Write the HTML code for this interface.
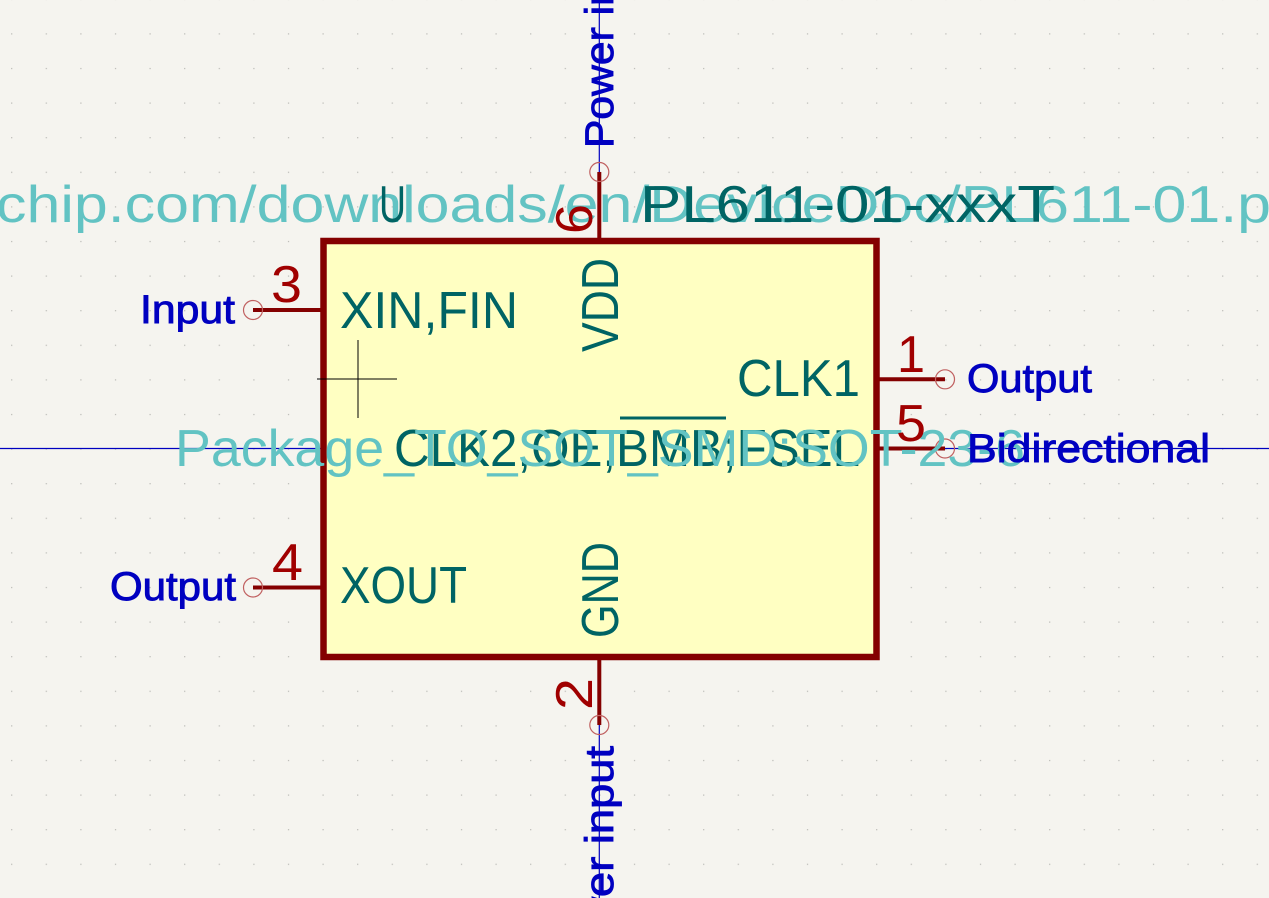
<!DOCTYPE html>
<html><head><meta charset="utf-8"><style>
html,body{margin:0;padding:0;background:#f5f4ef;width:1269px;height:898px;overflow:hidden;}
svg{display:block;}
text{font-family:"Liberation Sans",sans-serif;}
</style></head><body>
<svg width="1269" height="898" viewBox="0 0 1269 898" xmlns="http://www.w3.org/2000/svg" style="overflow:hidden">
<defs>
<pattern id="g" x="11.1" y="-1.3" width="34.6" height="34.6" patternUnits="userSpaceOnUse">
<rect x="0" y="0" width="1.2" height="1.2" fill="#b8b8b4"/>
</pattern>
</defs>
<rect width="1269" height="898" fill="#f5f4ef"/>
<rect width="1269" height="898" fill="url(#g)"/>

<line x1="0" y1="448.5" x2="1269" y2="448.5" stroke="#0000c0" stroke-width="1.2"/>
<line x1="599.3" y1="0" x2="599.3" y2="172" stroke="#0000c0" stroke-width="1.2"/>
<line x1="599.3" y1="725" x2="599.3" y2="898" stroke="#0000c0" stroke-width="1.2"/>

<g stroke="#840000" stroke-width="4">
<line x1="253" y1="310" x2="323" y2="310"/>
<line x1="253" y1="587.5" x2="323" y2="587.5"/>
<line x1="876" y1="379.3" x2="945" y2="379.3"/>
<line x1="876" y1="448.5" x2="945" y2="448.5"/>
<line x1="599.3" y1="172" x2="599.3" y2="241"/>
<line x1="599.3" y1="656" x2="599.3" y2="725"/>
</g>
<g fill="none" stroke="#c06060" stroke-width="1.2">
<circle cx="253" cy="310" r="9.5"/>
<circle cx="253" cy="587.5" r="9.5"/>
<circle cx="945" cy="379.3" r="9.5"/>
<circle cx="945" cy="448.5" r="9.5"/>
<circle cx="599.3" cy="172" r="9.5"/>
<circle cx="599.3" cy="725" r="9.5"/>
</g>

<rect x="323.5" y="241" width="553" height="416" fill="#ffffc2" stroke="#840000" stroke-width="6.5"/>

<line x1="358" y1="340" x2="358" y2="418" stroke="#000" stroke-width="1"/>
<line x1="317" y1="379" x2="397" y2="379" stroke="#000" stroke-width="1"/>

<text x="-4" y="222" font-size="52" fill="#62c3c3" textLength="1275" lengthAdjust="spacingAndGlyphs">chip.com/downloads/en/DeviceDoc/PL611-01.p</text>

<g fill="#006464" font-size="52">
<text x="379" y="222" textLength="27" lengthAdjust="spacingAndGlyphs">U</text>
<text x="640" y="222" textLength="415" lengthAdjust="spacingAndGlyphs">PL611-01-xxxT</text>
<text x="340" y="328" textLength="178" lengthAdjust="spacingAndGlyphs">XIN,FIN</text>
<text x="737" y="396" textLength="123" lengthAdjust="spacingAndGlyphs">CLK1</text>
<text x="394" y="466" textLength="466" lengthAdjust="spacingAndGlyphs">CLK2,OE,BMB;FSEL</text>
<text x="340" y="603" textLength="127" lengthAdjust="spacingAndGlyphs">XOUT</text>
<text transform="translate(618,352) rotate(-90)" textLength="94" lengthAdjust="spacingAndGlyphs">VDD</text>
<text transform="translate(618,638) rotate(-90)" textLength="96" lengthAdjust="spacingAndGlyphs">GND</text>
</g>
<line x1="620" y1="418" x2="726" y2="418" stroke="#006464" stroke-width="3"/>

<text x="175" y="466" font-size="52" fill="#62c3c3" textLength="850" lengthAdjust="spacingAndGlyphs">Package_TO_SOT_SMD:SOT-23-6</text>

<g fill="#a00000" font-size="52">
<text x="271" y="302" textLength="31" lengthAdjust="spacingAndGlyphs">3</text>
<text x="272" y="580" textLength="31" lengthAdjust="spacingAndGlyphs">4</text>
<text x="897" y="372" textLength="28" lengthAdjust="spacingAndGlyphs">1</text>
<text x="896" y="441" textLength="30" lengthAdjust="spacingAndGlyphs">5</text>
<text transform="translate(592,234) rotate(-90)" textLength="30" lengthAdjust="spacingAndGlyphs">6</text>
<text transform="translate(592,710) rotate(-90)" textLength="32" lengthAdjust="spacingAndGlyphs">2</text>
</g>

<g fill="#0000c0" font-size="40" stroke="#0000c0" stroke-width="0.9">
<text x="140" y="323" textLength="95" lengthAdjust="spacingAndGlyphs">Input</text>
<text x="110" y="600" textLength="126" lengthAdjust="spacingAndGlyphs">Output</text>
<text x="967" y="392" textLength="125" lengthAdjust="spacingAndGlyphs">Output</text>
<text x="967" y="462" textLength="243" lengthAdjust="spacingAndGlyphs">Bidirectional</text>
<text transform="translate(613,148) rotate(-90)" textLength="225" lengthAdjust="spacingAndGlyphs">Power input</text>
<text transform="translate(613,985) rotate(-90)" textLength="239" lengthAdjust="spacingAndGlyphs">Power input</text>
</g>
</svg>
</body></html>
